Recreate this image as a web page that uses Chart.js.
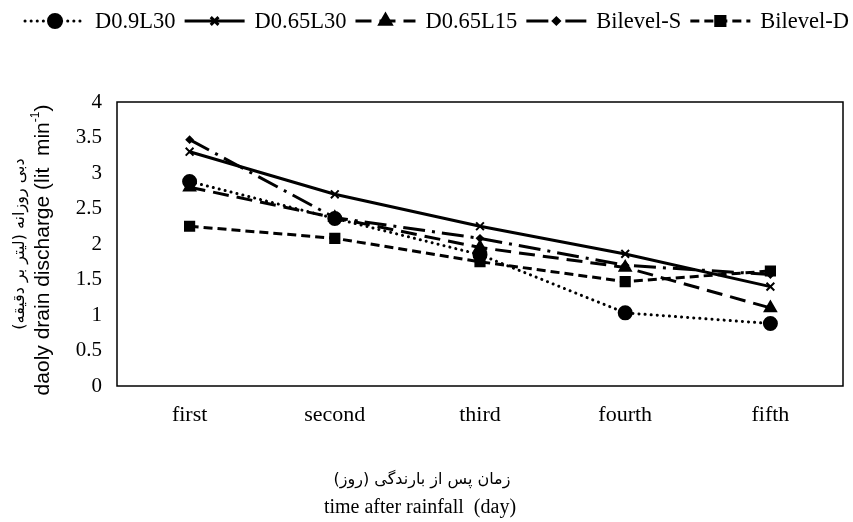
<!DOCTYPE html>
<html>
<head>
<meta charset="utf-8">
<script src="https://cdn.jsdelivr.net/npm/chart.js@4/dist/chart.umd.min.js"></script>
<style>
    html, body { margin: 0; padding: 0; background: #fff; }
    #wrap { width: 853px; height: 522px; position: relative; }
</style>
</head>
<body>
<div id="wrap"><canvas id="drain-chart"></canvas></div>
<script>
// Data
const days = ['first', 'second', 'third', 'fourth', 'fifth'];
const d09L30 = [2.88, 2.36, 1.85, 1.03, 0.88];
const d065L30 = [3.30, 2.70, 2.25, 1.86, 1.40];
const d065L15 = [2.80, 2.37, 1.95, 1.67, 1.10];
const bilevelS = [3.47, 2.37, 2.08, 1.70, 1.57];
const bilevelD = [2.25, 2.08, 1.75, 1.47, 1.62];
const yTicks = [0, 0.5, 1, 1.5, 2, 2.5, 3, 3.5, 4];

const serif = '"Liberation Serif", "Times New Roman", serif';
const sans = '"Liberation Sans", Arial, sans-serif';
const persian = '"DejaVu Sans", sans-serif';

// Legend drawn by hand: line sample with marker in the middle, like the original
const lineLegend = {
    id: 'lineLegend',
    afterDraw(chart) {
        const ctx = chart.ctx;
        let x = 25;
        const y = 21;
        ctx.save();
        ctx.font = '22.5px ' + serif;
        ctx.textBaseline = 'middle';
        chart.data.datasets.forEach(ds => {
            const len = 60;
            ctx.strokeStyle = '#000';
            ctx.lineWidth = ds.borderWidth;
            ctx.lineCap = ds.borderCapStyle || 'butt';
            ctx.setLineDash(ds.borderDash || []);
            ctx.beginPath();
            ctx.moveTo(x, y);
            ctx.lineTo(x + len, y);
            ctx.stroke();
            ctx.setLineDash([]);
            ctx.fillStyle = '#000';
            Chart.helpers.drawPoint(ctx, {
                pointStyle: ds.pointStyle,
                radius: ds.pointRadius,
                rotation: 0,
                borderWidth: 1.5
            }, x + len / 2, y);
            x += len + 10;
            ctx.fillStyle = '#000';
            ctx.fillText(ds.label, x, y + 1);
            x += ctx.measureText(ds.label).width + 9;
        });
        ctx.restore();
    }
};

// Frame round the plot area and the two-language axis titles
const frameAndTitles = {
    id: 'frameAndTitles',
    beforeDatasetsDraw(chart) {
        const a = chart.chartArea;
        const ctx = chart.ctx;
        ctx.save();
        ctx.strokeStyle = '#000';
        ctx.lineWidth = 1.5;
        ctx.strokeRect(a.left, a.top, a.right - a.left, a.bottom - a.top);
        ctx.restore();
    },
    afterDraw(chart) {
        const a = chart.chartArea;
        const ctx = chart.ctx;
        const midY = (a.top + a.bottom) / 2;
        ctx.save();
        ctx.fillStyle = '#000';
        ctx.textBaseline = 'middle';

        // y title, rotated
        ctx.save();
        ctx.translate(20, midY);
        ctx.rotate(-Math.PI / 2);
        ctx.textAlign = 'center';
        ctx.font = '16px ' + persian;
        ctx.fillText('دبی روزانه (لیتر بر دقیقه)', 0, 0);
        ctx.restore();

        ctx.save();
        ctx.translate(43, midY + 6);
        ctx.rotate(-Math.PI / 2);
        ctx.textAlign = 'left';
        const main = 'daoly drain discharge (lit  min';
        ctx.font = '21px ' + sans;
        const wMain = ctx.measureText(main).width;
        ctx.font = '12px ' + sans;
        const wSup = ctx.measureText('-1').width;
        ctx.font = '21px ' + sans;
        const wEnd = ctx.measureText(')').width;
        let x0 = -(wMain + wSup + wEnd) / 2;
        ctx.fillText(main, x0, 0);
        x0 += wMain;
        ctx.font = '12px ' + sans;
        ctx.fillText('-1', x0, -7);
        x0 += wSup;
        ctx.font = '21px ' + sans;
        ctx.fillText(')', x0, 0);
        ctx.restore();

        // x title
        ctx.textAlign = 'center';
        ctx.font = '16px ' + persian;
        ctx.fillText('زمان پس از بارندگی (روز)', 422, 480);
        ctx.font = '20px ' + serif;
        ctx.fillText('time after rainfall  (day)', 420, 508);
        ctx.restore();
    }
};

function series(label, data, dash, style, radius, width, cap) {
    return {
        label: label,
        data: data,
        borderColor: '#000',
        backgroundColor: '#000',
        pointBackgroundColor: '#000',
        pointBorderColor: '#000',
        borderWidth: width,
        borderDash: dash,
        borderCapStyle: cap || 'butt',
        pointStyle: style,
        pointRadius: radius,
        pointBorderWidth: 2,
        tension: 0,
        fill: false
    };
}

const drainChart = new Chart(document.getElementById('drain-chart').getContext('2d'), {
    type: 'line',
    data: {
        labels: days,
        datasets: [
            series('D0.9L30', d09L30, [0.1, 6], 'circle', 6.5, 3, 'round'),
            series('D0.65L30', d065L30, [], 'crossRot', 5.5, 3),
            series('D0.65L15', d065L15, [16, 8], 'triangle', 6.5, 3),
            series('Bilevel-S', bilevelS, [22, 7, 3, 7], 'rectRot', 3, 3),
            series('Bilevel-D', bilevelD, [9, 5], 'rect', 6.5, 3)
        ]
    },
    options: {
        responsive: true,
        maintainAspectRatio: false,
        animation: false,
        layout: { padding: { top: 102, right: 10, left: 0, bottom: 0 } },
        plugins: {
            legend: { display: false },
            tooltip: { enabled: false }
        },
        scales: {
            x: {
                offset: true,
                grid: { display: false, drawTicks: false },
                border: { display: false },
                ticks: { color: '#000', padding: 16, font: { family: serif, size: 22 } },
                afterFit(scale) { scale.height = 136; }
            },
            y: {
                min: 0,
                max: 4,
                afterBuildTicks(scale) { scale.ticks = yTicks.map(v => ({ value: v })); },
                grid: { display: false, drawTicks: false },
                border: { display: false },
                ticks: {
                    color: '#000',
                    padding: 15,
                    font: { family: serif, size: 21 },
                    callback: value => String(value)
                },
                afterFit(scale) { scale.width = 117; }
            }
        }
    },
    plugins: [lineLegend, frameAndTitles]
});
</script>
</body>
</html>
